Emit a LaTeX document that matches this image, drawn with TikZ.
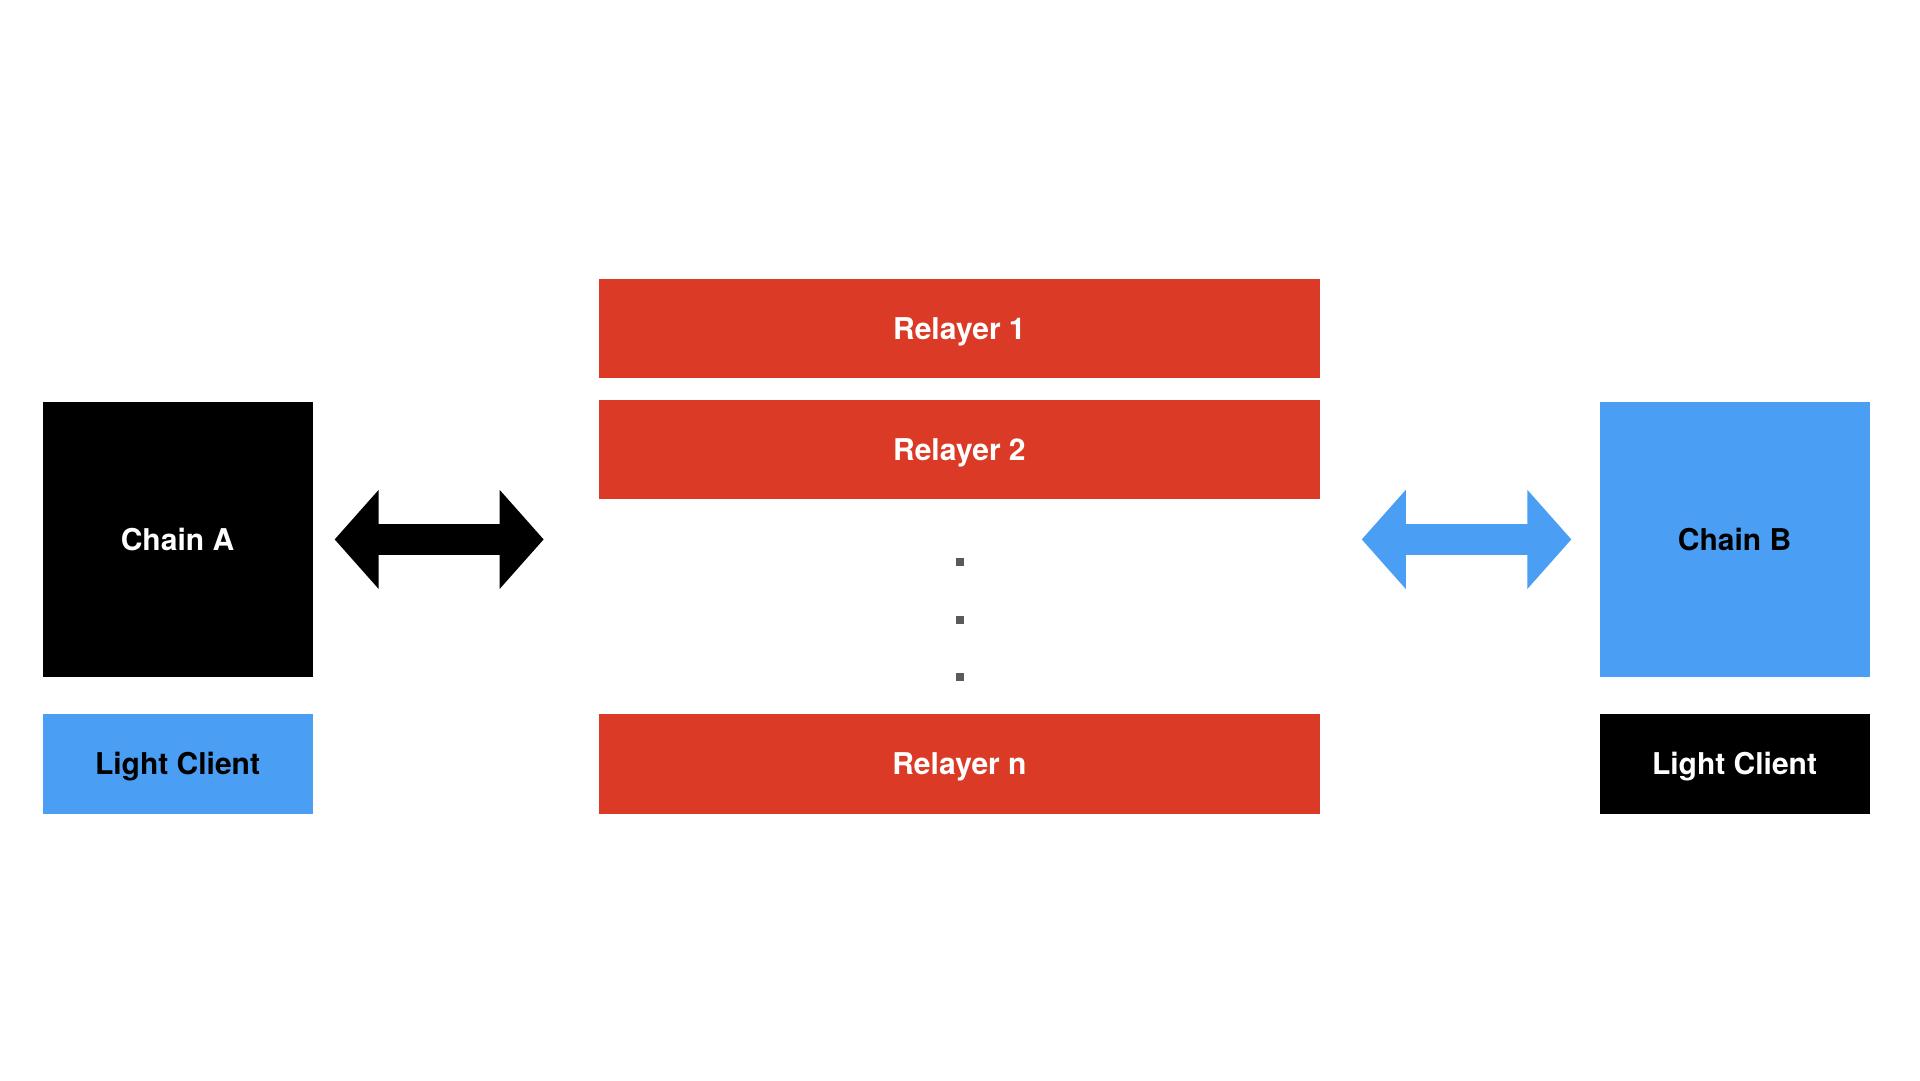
\documentclass[tikz,border=0pt]{standalone}
\usepackage{fontspec}
\setmainfont{TeX Gyre Heros}
\usetikzlibrary{positioning, calc}
\definecolor{relayred}{HTML}{DB3B26}
\definecolor{chainblue}{HTML}{4A9FF5}
\definecolor{dotgray}{HTML}{5A5A5A}

% fat two-headed arrow between two coordinates
\newcommand{\dblarrow}[3]{%
  \fill[#1] let \p1=(#2), \p2=(#3) in
    (\p1) -- (\x1+44pt,\y1+49.6pt) -- (\x1+44pt,\y1+15.4pt)
    -- (\x2-44pt,\y1+15.4pt) -- (\x2-44pt,\y1+49.6pt) -- (\p2)
    -- (\x2-44pt,\y1-49.6pt) -- (\x2-44pt,\y1-15.4pt)
    -- (\x1+44pt,\y1-15.4pt) -- (\x1+44pt,\y1-49.6pt) -- cycle;}

\begin{document}
\begin{tikzpicture}[
  x=1pt, y=-1pt,
  every node/.style={font=\fontsize{30}{36}\selectfont\bfseries,
                     text height=22pt, text depth=0pt},
  chain/.style={rectangle, minimum width=270pt, minimum height=275.5pt,
                inner sep=0pt},
  client/.style={rectangle, minimum width=270pt, minimum height=99.2pt,
                 inner sep=0pt},
  relayer/.style={rectangle, fill=relayred, text=white,
                  minimum width=721.2pt, minimum height=99.2pt, inner sep=0pt},
  dotbox/.style={rectangle, fill=dotgray, minimum size=8pt, inner sep=0pt,
                 text height=0pt}
]
\useasboundingbox (0,0) rectangle (1920,1080);
% left side
\node[chain, fill=black, text=white]      (chainA) at (177.5,539.4) {Chain A};
\node[client, fill=chainblue, below=36.8pt of chainA] (lcA) {Light Client};
% relayers
\node[relayer]                            (rel1) at (959.4,328.8) {Relayer 1};
\node[relayer, below=20.8pt of rel1]      (rel2) {Relayer 2};
\node[relayer]                            (reln) at (rel1 |- lcA) {Relayer n};
\foreach \i/\y in {1/562, 2/619.6, 3/677}
  \node[dotbox] (dot\i) at (960,\y) {};
% right side
\node[chain, fill=chainblue]              (chainB) at (1734.5,539.4) {Chain B};
\node[client, fill=black, text=white, below=36.8pt of chainB] (lcB) {Light Client};
% two-way arrows
\coordinate (aL1) at ($(chainA.east)+(22,0)$);
\coordinate (aR1) at ($(rel1.west |- chainA.east)+(-55,0)$);
\coordinate (aL2) at ($(rel1.east |- chainB.west)+(41.6,0)$);
\coordinate (aR2) at ($(chainB.west)+(-28,0)$);
\dblarrow{black}{aL1}{aR1}
\dblarrow{chainblue}{aL2}{aR2}
\end{tikzpicture}
\end{document}
